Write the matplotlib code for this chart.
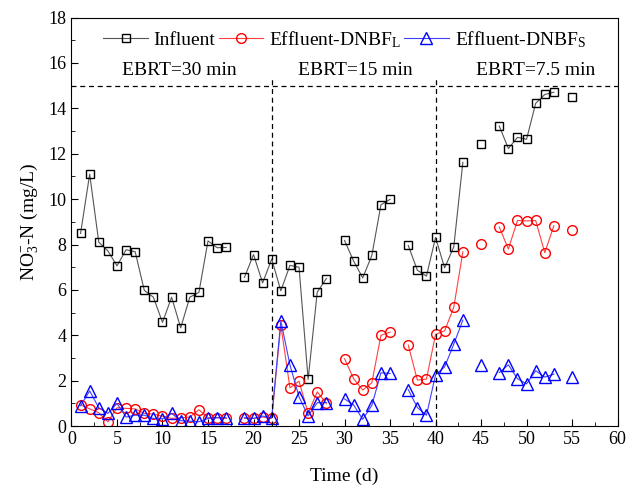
import numpy as np
import matplotlib
matplotlib.use("Agg")
import matplotlib.pyplot as plt
from matplotlib.ticker import MultipleLocator

plt.rcParams["font.family"] = ["Liberation Serif", "DejaVu Serif"]
plt.rcParams["mathtext.fontset"] = "custom"
plt.rcParams["mathtext.rm"] = "Liberation Serif"
plt.rcParams["mathtext.it"] = "Liberation Serif:italic"

nan = np.nan

# days 1..55, nan where no sample
days = np.arange(1, 56)

influent = [8.49, 11.1, 8.1, 7.72, 7.06, 7.77, 7.68, 5.98, 5.68, 4.57,
            5.68, 4.33, 5.68, 5.89, 8.16, 7.86, 7.87, nan, 6.55, 7.56,
            6.31, 7.36, 5.96, 7.08, 7.0, 2.06, 5.9, 6.5, nan, 8.18,
            7.27, 6.53, 7.52, 9.75, 9.99, nan, 7.96, 6.87, 6.61, 8.31,
            6.97, 7.89, 11.62, nan, 12.42, nan, 13.22, 12.23, 12.72, 12.64,
            14.22, 14.61, 14.71, nan, 14.52]

effluent_l = [0.93, 0.76, 0.59, 0.19, 0.81, 0.78, 0.76, 0.56, 0.53, 0.44,
              0.34, 0.37, 0.40, 0.72, 0.37, 0.37, 0.34, nan, 0.34, 0.34,
              0.40, 0.34, 4.45, 1.69, 1.98, 0.56, 1.51, 1.0, nan, 2.97,
              2.09, 1.59, 1.91, 4.0, 4.14, nan, 3.57, 2.03, 2.07, 4.04,
              4.2, 5.23, 7.68, nan, 8.02, nan, 8.77, 7.80, 9.06, 9.04,
              9.06, 7.64, 8.83, nan, 8.63]

effluent_s = [0.9, 1.55, 0.81, 0.56, 1.0, 0.4, 0.48, 0.48, 0.34, 0.32,
              0.56, 0.24, 0.22, 0.19, 0.34, 0.37, 0.37, nan, 0.37, 0.34,
              0.44, 0.37, 4.64, 2.7, 1.29, 0.45, 1.03, 1.04, nan, 1.2,
              0.93, 0.3, 0.91, 2.35, 2.32, nan, 1.61, 0.82, 0.48, 2.26,
              2.61, 3.61, 4.67, nan, 2.7, nan, 2.36, 2.7, 2.09, 1.86,
              2.44, 2.16, 2.29, nan, 2.16]

stage_breaks = [22, 40]
stage_labels = ["EBRT=30 min", "EBRT=15 min", "EBRT=7.5 min"]
stage_label_x = [11.8, 31.2, 51.0]

fig = plt.figure(figsize=(6.27, 4.87), dpi=100)
ax = fig.add_axes([0.114, 0.125, 0.871, 0.839])

ax.plot(days, influent, color="#555555", lw=0.8, marker="s", ms=6,
        mfc="none", mec="black", mew=1.0, label="Influent")
ax.plot(days, effluent_l, color="#ff4040", lw=0.8, marker="o", ms=7,
        mfc="none", mec="red", mew=1.0, label="Effluent-DNBF$_\\mathrm{L}$")
ax.plot(days, effluent_s, color="#4040ff", lw=0.8, marker="^", ms=8,
        mfc="none", mec="blue", mew=1.0, label="Effluent-DNBF$_\\mathrm{S}$")

ax.axhline(15, color="black", ls="--", lw=0.9, dashes=(4, 3))
for xb in stage_breaks:
    ax.plot([xb, xb], [0, 15.3], color="black", ls="--", lw=0.9, dashes=(4, 3))

for lbl, xl in zip(stage_labels, stage_label_x):
    ax.text(xl, 15.65, lbl, ha="center", va="center", fontsize=14)

ax.set_xlim(0, 60)
ax.set_ylim(0, 18)
ax.xaxis.set_major_locator(MultipleLocator(5))
ax.xaxis.set_minor_locator(MultipleLocator(2.5))
ax.yaxis.set_major_locator(MultipleLocator(2))
ax.yaxis.set_minor_locator(MultipleLocator(1))
ax.tick_params(which="both", direction="in", labelsize=13)
ax.tick_params(which="major", length=5)
ax.tick_params(which="minor", length=3)

ax.set_xlabel("Time (d)", fontsize=14, labelpad=14)
ax.set_ylabel("NO$_3^{-}$-N (mg/L)", fontsize=14, labelpad=6)

ax.legend(loc="upper center", ncol=3, frameon=False, fontsize=14,
          handlelength=2.3, columnspacing=0.15, handletextpad=0.3,
          borderaxespad=0.2, bbox_to_anchor=(0.5, 1.0))

fig.savefig("out.png", dpi=100)
